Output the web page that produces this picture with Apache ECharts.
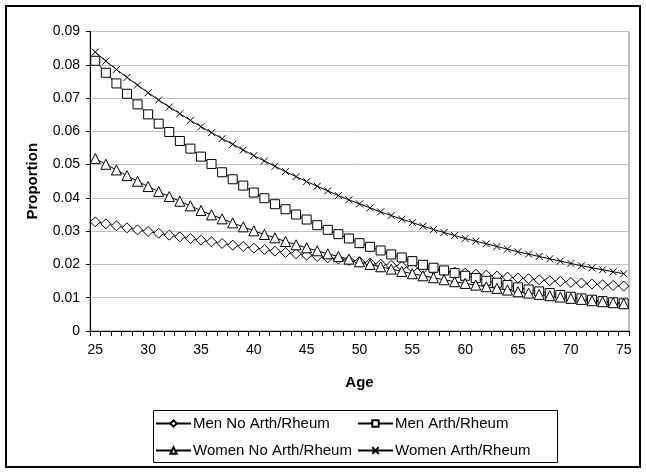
<!DOCTYPE html>
<html>
<head>
<meta charset="utf-8">
<script src="https://cdn.jsdelivr.net/npm/echarts@6/dist/echarts.min.js"></script>
<style>
html,body{margin:0;padding:0;background:#fff;}
#chart{width:646px;height:475px;}
</style>
</head>
<body>
<div id="chart"></div>
<script>
const ages = [];
for (let a = 25; a <= 75; a++) ages.push(String(a));

const seriesNames = ['Men No Arth/Rheum', 'Men Arth/Rheum', 'Women No Arth/Rheum', 'Women Arth/Rheum'];

const menNoArth = [
  0.0328, 0.0322, 0.0316, 0.0310, 0.0304, 0.0299, 0.0294, 0.0288, 0.0283, 0.0278,
  0.0273, 0.0268, 0.0263, 0.0258, 0.0254, 0.0249, 0.0245, 0.0240, 0.0236, 0.0232,
  0.0228, 0.0224, 0.0220, 0.0216, 0.0212, 0.0208, 0.0204, 0.0201, 0.0197, 0.0194,
  0.0190, 0.0187, 0.0184, 0.0180, 0.0177, 0.0174, 0.0171, 0.0168, 0.0165, 0.0162,
  0.0159, 0.0157, 0.0154, 0.0151, 0.0149, 0.0146, 0.0144, 0.0141, 0.0139, 0.0137,
  0.0135
];
const menArth = [
  0.0812, 0.0776, 0.0744, 0.0713, 0.0681, 0.0651, 0.0623, 0.0598, 0.0571, 0.0548,
  0.0524, 0.0502, 0.0477, 0.0456, 0.0437, 0.0416, 0.0399, 0.0381, 0.0366, 0.0350,
  0.0335, 0.0318, 0.0304, 0.0291, 0.0278, 0.0264, 0.0253, 0.0242, 0.0230, 0.0221,
  0.0210, 0.0199, 0.0190, 0.0182, 0.0174, 0.0166, 0.0159, 0.0151, 0.0145, 0.0138,
  0.0131, 0.0125, 0.0119, 0.0114, 0.0108, 0.0103, 0.0098, 0.0094, 0.0090, 0.0086,
  0.0083
];
const womenNoArth = [
  0.0518, 0.0501, 0.0484, 0.0467, 0.0450, 0.0434, 0.0419, 0.0404, 0.0390, 0.0376,
  0.0362, 0.0349, 0.0337, 0.0325, 0.0313, 0.0301, 0.0290, 0.0280, 0.0269, 0.0259,
  0.0250, 0.0241, 0.0232, 0.0224, 0.0216, 0.0208, 0.0200, 0.0193, 0.0186, 0.0179,
  0.0172, 0.0166, 0.0160, 0.0154, 0.0148, 0.0143, 0.0138, 0.0133, 0.0128, 0.0123,
  0.0118, 0.0114, 0.0110, 0.0106, 0.0102, 0.0098, 0.0095, 0.0091, 0.0088, 0.0085,
  0.0082
];
const womenArth = [
  0.0838, 0.0811, 0.0786, 0.0762, 0.0739, 0.0716, 0.0694, 0.0673, 0.0653, 0.0633,
  0.0614, 0.0596, 0.0578, 0.0561, 0.0544, 0.0527, 0.0511, 0.0495, 0.0479, 0.0464,
  0.0449, 0.0435, 0.0421, 0.0407, 0.0394, 0.0382, 0.0370, 0.0358, 0.0347, 0.0336,
  0.0326, 0.0315, 0.0305, 0.0296, 0.0287, 0.0278, 0.0270, 0.0262, 0.0254, 0.0246,
  0.0238, 0.0231, 0.0224, 0.0217, 0.0210, 0.0203, 0.0196, 0.0190, 0.0184, 0.0178,
  0.0172
];

const yMin = 0, yMax = 0.09, yStep = 0.01;
const FONT = '"Liberation Sans", Arial, sans-serif';

const symbols = [
  {symbol: 'diamond', size: 10},
  {symbol: 'rect', size: 9},
  {symbol: 'triangle', size: 10},
  {symbol: 'path://M0,0L10,10M10,0L0,10', size: 7}
];
const allData = [menNoArth, menArth, womenNoArth, womenArth];

const series = allData.map((d, i) => ({
  name: seriesNames[i],
  type: 'line',
  data: d,
  symbol: symbols[i].symbol,
  symbolSize: symbols[i].size,
  showAllSymbol: true,
  lineStyle: {color: '#000', width: 1},
  itemStyle: {color: '#fff', borderColor: '#000', borderWidth: 1},
  emphasis: {disabled: true}
}));

const legendPos = [
  {left: 155, top: 416},
  {left: 357, top: 416},
  {left: 155, top: 443},
  {left: 357, top: 443}
];
const legends = seriesNames.map((n, i) => ({
  data: [n],
  left: legendPos[i].left,
  top: legendPos[i].top,
  padding: 0,
  itemWidth: 35,
  itemHeight: 8,
  itemGap: 0,
  selectedMode: false,
  textStyle: {fontFamily: FONT, fontSize: 15, color: '#000', padding: [0, 0, 0, -3]}
}));

const chart = echarts.init(document.getElementById('chart'), null, {renderer: 'canvas'});
chart.setOption({
  animation: false,
  backgroundColor: '#fff',
  graphic: [
    {type: 'rect', shape: {x: 6, y: 6, width: 634, height: 461},
     style: {fill: 'none', stroke: '#000', lineWidth: 2}, silent: true, z: -1},
    {type: 'rect', shape: {x: 153.5, y: 410.5, width: 404, height: 52},
     style: {fill: 'none', stroke: '#000', lineWidth: 1}, silent: true}
  ],
  legend: legends,
  grid: {left: 90, right: 17, top: 31.5, bottom: 144, show: true, borderColor: '#808080', borderWidth: 1},
  xAxis: {
    type: 'category',
    data: ages,
    boundaryGap: true,
    name: 'Age',
    nameLocation: 'middle',
    nameGap: 44,
    nameTextStyle: {fontFamily: FONT, fontSize: 15, fontWeight: 'bold', color: '#000'},
    axisLine: {lineStyle: {color: '#000', width: 1}},
    axisTick: {show: true, interval: 0, length: 5, lineStyle: {color: '#000'}},
    axisLabel: {interval: 4, margin: 12, fontFamily: FONT, fontSize: 14, color: '#000'},
    splitLine: {show: false}
  },
  yAxis: {
    type: 'value',
    min: yMin, max: yMax, interval: yStep,
    name: 'Proportion',
    nameLocation: 'middle',
    nameGap: 50,
    nameTextStyle: {fontFamily: FONT, fontSize: 15, fontWeight: 'bold', color: '#000'},
    axisLine: {show: true, lineStyle: {color: '#000', width: 1}},
    axisTick: {show: true, length: 4, lineStyle: {color: '#000'}},
    axisLabel: {margin: 10, fontFamily: FONT, fontSize: 14, color: '#000',
      formatter: v => v === 0 ? '0' : v.toFixed(2)},
    splitLine: {show: true, lineStyle: {color: '#c0c0c0', width: 1}}
  },
  series: series
});
</script>
</body>
</html>
